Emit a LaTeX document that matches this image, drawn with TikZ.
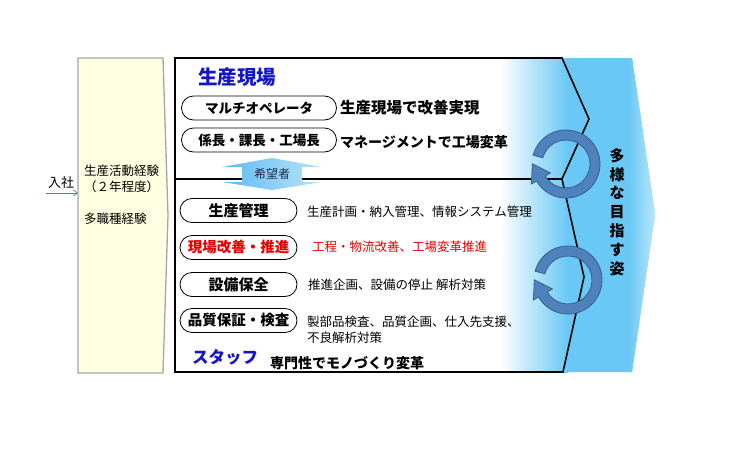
\documentclass[tikz,border=0pt]{standalone}
\usepackage{fontspec}
\setmainfont{Noto Sans CJK JP}
\usetikzlibrary{arrows.meta,calc}
\definecolor{skyb}{RGB}{105,200,245}
\definecolor{ringf}{RGB}{79,129,189}
\definecolor{ringd}{RGB}{56,93,138}
\definecolor{hblue}{RGB}{20,20,200}
\definecolor{hred}{RGB}{230,0,0}
\definecolor{cream}{RGB}{255,255,226}
\definecolor{boxgray}{RGB}{165,165,165}
\definecolor{navytxt}{RGB}{30,45,70}
\definecolor{arrL}{RGB}{95,185,240}
\definecolor{arrR}{RGB}{185,228,250}
\newcommand{\myring}[1]{%
 \filldraw[fill=ringf, draw=ringd, line width=0.8pt]
  ($(#1)+(-165:34)$) arc[start angle=-165, end angle=150, radius=34]
  -- ($(#1)+(150:40)$) -- ($(#1)+(150:29)+(240:17)$) -- ($(#1)+(150:18)$)
  -- ($(#1)+(150:24)$) arc[start angle=150, end angle=-165, radius=24] -- cycle;}
\newcommand{\fs}[1]{\fontsize{#1}{#1}\selectfont}
\begin{document}
\begin{tikzpicture}[x=1pt,y=-1pt,
  pill/.style={draw=black, line width=0.8pt, rounded corners=12pt, minimum height=24pt, inner sep=0pt, fill=white},
  txt/.style={anchor=west, inner sep=0pt},
  desc/.style={txt, font=\fs{12.5}},
]
\useasboundingbox (0,0) rectangle (730,450);

% left cream box
\filldraw[fill=cream, draw=boxgray, line width=1.3pt] (78,58) -- (163,58) -- (168,215) -- (163,373) -- (78,373) -- cycle;
\coordinate (ybl) at (78,193);
\node[txt, font=\fs{13}] (nyu) at (48,183) {入社};
\coordinate (arrst) at (46,193);
\draw[-{Straight Barb[length=4pt,width=6pt]}, ringf, line width=0.7pt] (arrst) -- (ybl);
\node[txt, font=\fs{12.5}] (lt1) at (84,171) {生産活動経験};
\node[txt, font=\fs{12.5}] (lt2) at (84,187) {（２年程度）};
\node[txt, font=\fs{12.5}] (lt3) at (84,219) {多職種経験};

% blue background gradient and chevron
\shade[left color=white, right color=skyb] (500,58) rectangle (568,372);
\fill[skyb] (567,58) -- (632,58) -- (655,214) -- (632,372) -- (567,372) -- cycle;
\begin{scope}
 \clip (567,58) -- (632,58) -- (655,214) -- (632,372) -- (567,372) -- cycle;
 \shade[left color=skyb, right color=white!55!skyb] (628,58) rectangle (656,372);
\end{scope}

% main box outline
\draw[line width=1.6pt, line join=miter] (175,58) -- (562,58) -- (589,119) -- (562,179) -- (584,277) -- (563,372) -- (175,372) -- cycle;
\draw[line width=1.6pt] (175,179) -- (562,179);

% double arrow 希望者
\shade[left color=arrL, right color=arrR]
  (272,158) -- (322,167) -- (302,167) -- (302,182) -- (322,182) -- (272,190) -- (222,182) -- (242,182) -- (242,167) -- (222,167) -- cycle;
\node[font=\fs{12}, text=navytxt, inner sep=0pt] (kibo) at (272,174) {希望者};

% top section
\node[txt, font=\bfseries\fs{19.5}, text=hblue] (genba) at (198,77) {生産現場};
\node[pill, minimum width=155pt, font=\bfseries\fs{13.5}] (p1) at (259,108) {マルチオペレータ};
\node[pill, minimum width=155pt, font=\bfseries\fs{13.5}] (p2) at (259,140) {係長・課長・工場長};
\node[txt, font=\bfseries\fs{15.5}] (d1) at (340,108) {生産現場で改善実現};
\node[txt, font=\bfseries\fs{14}] (d2) at (340,142) {マネージメントで工場変革};

% bottom section
\node[pill, minimum width=117pt, font=\bfseries\fs{15}] (q1) at (238.5,210.5) {生産管理};
\node[pill, minimum width=117pt, font=\bfseries\fs{14.5}, text=hred] (q2) at (238.5,247.5) {現場改善・推進};
\node[pill, minimum width=117pt, font=\bfseries\fs{15}] (q3) at (238.5,284.5) {設備保全};
\node[pill, minimum width=117pt, font=\bfseries\fs{14.5}] (q4) at (238.5,320.5) {品質保証・検査};
\node[desc] (e1) at (307,212) {生産計画・納入管理、情報システム管理};
\node[desc, text=hred] (e2) at (312,247) {工程・物流改善、工場変革推進};
\node[desc] (e3) at (308,285) {推進企画、設備の停止\ 解析対策};
\node[desc] (e4) at (307,322) {製部品検査、品質企画、仕入先支援、};
\node[desc] (e5) at (307,338) {不良解析対策};
\node[txt, font=\bfseries\fs{16.5}, text=hblue] (staff) at (192,357) {スタッフ};
\node[txt, font=\bfseries\fs{14}] (senmon) at (270,363) {専門性でモノづくり変革};

% rings
\coordinate (r1) at (566,164);
\coordinate (r2) at (568,280);
\myring{r1}
\myring{r2}

% vertical text
\node[font=\bfseries\fontsize{15}{18.8}\selectfont, align=center, inner sep=0pt] (goal) at (617,212) {多\\様\\な\\目\\指\\す\\姿};
\end{tikzpicture}
\end{document}
